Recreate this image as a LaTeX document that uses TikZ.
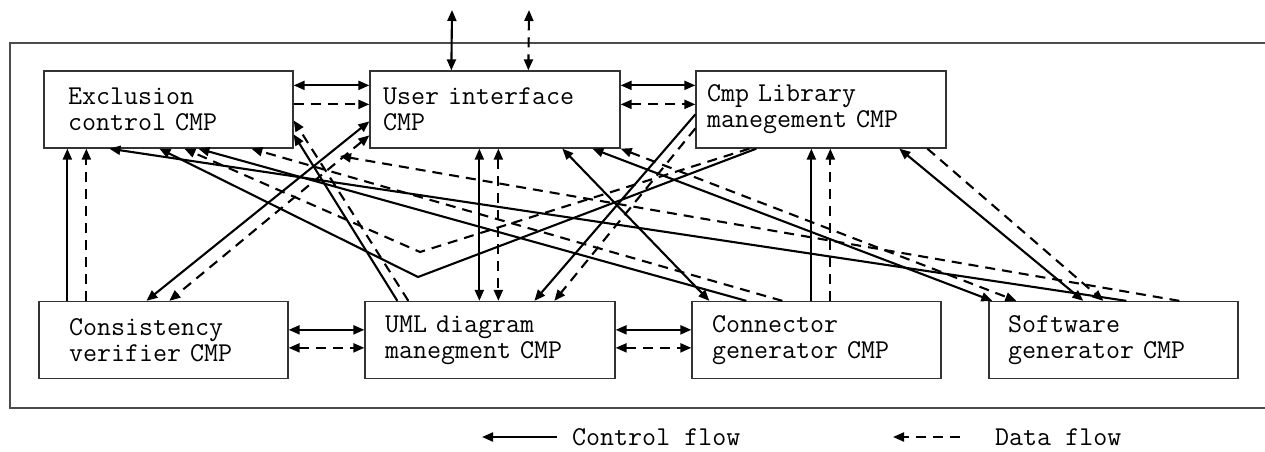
\documentclass[tikz,border=0pt]{standalone}
\usepackage{fontspec}
\usetikzlibrary{arrows.meta,calc}
\begin{document}
\begin{tikzpicture}[x=1pt,y=-1pt,
  >={Triangle[length=11pt,width=9pt]},
  sl/.style={line width=2.1pt,black},
  ds/.style={line width=2.1pt,black,dash pattern=on 10pt off 7pt},
  frame/.style={line width=1.2pt,black!70},
  box/.style={draw=black!80,line width=1.3pt,minimum height=77pt,inner ysep=0pt,align=left,
    font=\fontsize{27.2}{26}\selectfont\ttfamily},
  lgtext/.style={font=\fontsize{27.2}{26}\selectfont\ttfamily,inner sep=0pt,anchor=base west}]
\useasboundingbox (0,0) rectangle (1265,451);
\draw[frame] (1265,43) -- (10,43) -- (10,408) -- (1265,408);

\node[box,text width=201pt,inner xsep=24pt] (excl) at (168.5,109.5) {Exclusion\\control CMP};
\node[box,text width=224pt,inner xsep=13pt] (ui) at (495,109.5) {User interface\\CMP};
\node[box,text width=228pt,inner xsep=11pt] (lib) at (821,109.5) {Cmp Library\\manegement CMP};
\node[box,text width=189pt,inner xsep=30pt] (cons) at (163.5,340) {Consistency\\verifier CMP};
\node[box,text width=210pt,inner xsep=20pt] (uml) at (490,340) {UML diagram\\manegment CMP};
\node[box,text width=209pt,inner xsep=20pt] (conng) at (816.5,340) {Connector\\generator CMP};
\node[box,text width=211pt,inner xsep=19pt] (soft) at (1113.5,340) {Software\\generator CMP};

\coordinate (topA) at (452,10);
\coordinate (topB) at (529,10);
\coordinate (bendS) at (418,277);
\coordinate (bendD) at (420,252);
\coordinate (dEnd) at (340,156);

% horizontal
\draw[sl,<->] ($(excl.north east)+(0,15)$) -- ($(ui.north west)+(0,15)$);
\draw[ds,->] ($(excl.north east)+(0,34)$) -- ($(ui.north west)+(0,34)$);
\draw[sl,<->] ($(ui.north east)+(0,15)$) -- ($(lib.north west)+(0,15)$);
\draw[ds,<->] ($(ui.north east)+(0,34)$) -- ($(lib.north west)+(0,34)$);
\draw[sl,<->] ($(cons.north east)+(0,29)$) -- ($(uml.north west)+(0,29)$);
\draw[ds,<->] ($(cons.north east)+(0,47)$) -- ($(uml.north west)+(0,47)$);
\draw[sl,<->] ($(uml.north east)+(0,29)$) -- ($(conng.north west)+(0,29)$);
\draw[ds,<->] ($(uml.north east)+(0,47)$) -- ($(conng.north west)+(0,47)$);
% external
\draw[sl,<->] (topA) -- ($(ui.north west)+(82,0)$);
\draw[ds,<->] (topB) -- ($(ui.north west)+(159,0)$);
% vertical
\draw[sl,->] ($(cons.north west)+(29,0)$) -- ($(excl.south west)+(24,0)$);
\draw[ds,->] ($(cons.north west)+(48,0)$) -- ($(excl.south west)+(43,0)$);
\draw[sl,<->] ($(ui.south west)+(110,0)$) -- ($(uml.north west)+(115,0)$);
\draw[ds,<->] ($(ui.south west)+(129,0)$) -- ($(uml.north west)+(134,0)$);
\draw[sl,->] ($(conng.north west)+(120,0)$) -- ($(lib.south west)+(116,0)$);
\draw[ds,->] ($(conng.north west)+(139,0)$) -- ($(lib.south west)+(135,0)$);
% diagonal
\draw[sl,<->] ($(ui.north west)+(0,51)$) -- ($(cons.north west)+(108,0)$);
\draw[ds,<->] ($(ui.north west)+(0,65)$) -- ($(cons.north west)+(131,0)$);
\draw[sl,->] ($(uml.north west)+(33,0)$) -- ($(excl.north east)+(0,64)$);
\draw[ds,->] ($(uml.north west)+(44,0)$) -- ($(excl.north east)+(0,50)$);
\draw[sl,->] ($(lib.north west)+(0,44)$) -- ($(uml.north west)+(170,0)$);
\draw[ds,->] ($(lib.north west)+(0,58)$) -- ($(uml.north west)+(190,0)$);
\draw[sl,->] ($(lib.south west)+(61,0)$) -- (bendS) -- ($(excl.south west)+(116,0)$);
\draw[ds,->] ($(lib.south west)+(54,0)$) -- (bendD) -- ($(excl.south west)+(141,0)$);
\draw[sl,->] ($(conng.north west)+(55,0)$) -- ($(excl.south west)+(155,0)$);
\draw[ds,->] ($(conng.north west)+(91,0)$) -- ($(excl.south west)+(208,0)$);
\draw[sl,->] ($(soft.north west)+(138,0)$) -- ($(excl.south west)+(66,0)$);
\draw[ds,->] ($(soft.north west)+(191,0)$) -- (dEnd);
\draw[sl,<->] ($(ui.south west)+(193,0)$) -- ($(conng.north west)+(18,0)$);
\draw[sl,<->] ($(ui.south west)+(223,0)$) -- ($(soft.north west)+(4,0)$);
\draw[ds,<->] (ui.south east) -- ($(soft.north west)+(28,0)$);
\draw[sl,<->] ($(lib.south west)+(204,0)$) -- ($(soft.north west)+(95,0)$);
\draw[ds,->] ($(lib.south west)+(232,0)$) -- ($(soft.north west)+(115,0)$);

% legend
\coordinate (lgA1) at (482,437);
\coordinate (lgA2) at (557,437);
\coordinate (lgB1) at (893,437);
\coordinate (lgB2) at (960,437);
\draw[sl,->] (lgA2) -- (lgA1);
\draw[ds,->] (lgB2) -- (lgB1);
\node[lgtext] (lgAt) at (572,445) {Control flow};
\node[lgtext] (lgBt) at (995,445) {Data flow};
\end{tikzpicture}
\end{document}
